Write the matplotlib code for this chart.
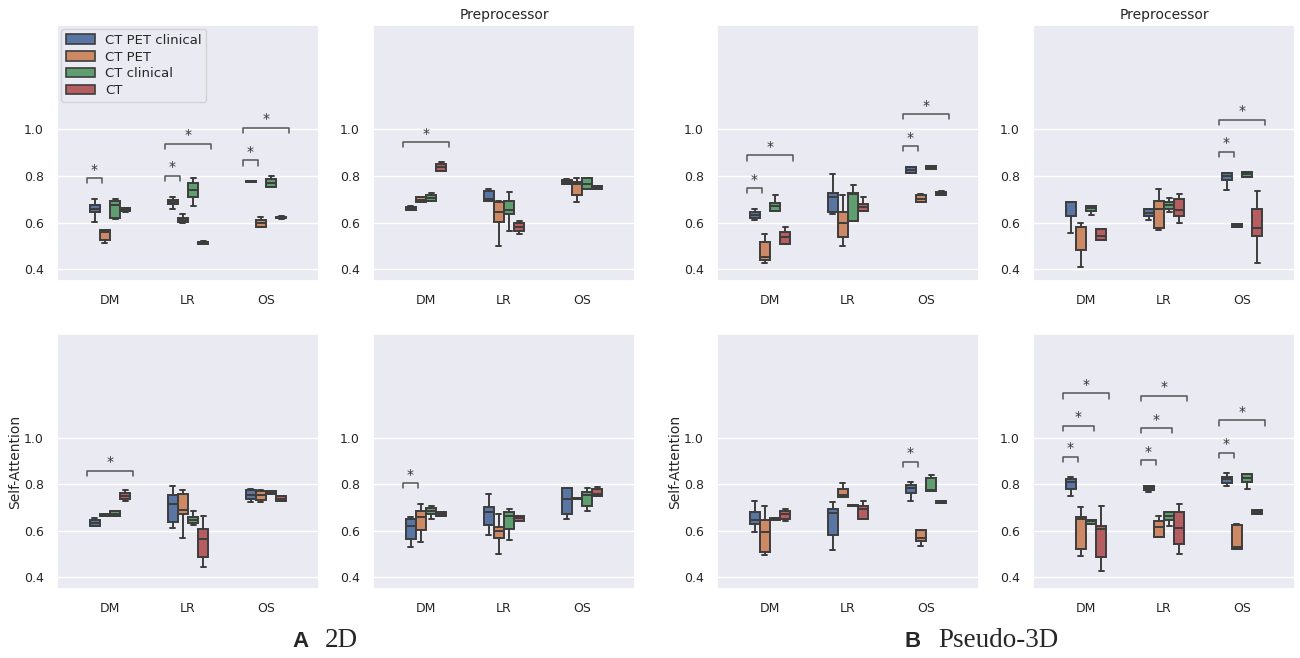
import matplotlib
matplotlib.use('Agg')
import matplotlib.pyplot as plt
from matplotlib.patches import Patch
import seaborn as sns

categories = ['DM', 'LR', 'OS']
inputs = ['CT PET clinical', 'CT PET', 'CT clinical', 'CT']

# box summaries: [whisker low, q1, median, q3, whisker high]
# one block per category (DM, LR, OS), one row per input
base_2d = [
    [[0.604, 0.644, 0.659, 0.673, 0.700], [0.511, 0.526, 0.560, 0.569, 0.569],
     [0.616, 0.619, 0.673, 0.693, 0.700], [0.647, 0.650, 0.657, 0.662, 0.664]],
    [[0.660, 0.680, 0.690, 0.697, 0.709], [0.600, 0.601, 0.611, 0.619, 0.636],
     [0.669, 0.709, 0.740, 0.769, 0.790], [0.509, 0.510, 0.514, 0.518, 0.519]],
    [[0.772, 0.773, 0.776, 0.778, 0.779], [0.583, 0.583, 0.600, 0.611, 0.623],
     [0.750, 0.750, 0.771, 0.787, 0.797], [0.617, 0.618, 0.621, 0.624, 0.626]],
]
prep_2d = [
    [[0.654, 0.655, 0.661, 0.667, 0.672], [0.686, 0.686, 0.697, 0.709, 0.709],
     [0.693, 0.693, 0.707, 0.719, 0.726], [0.820, 0.821, 0.837, 0.850, 0.859]],
    [[0.693, 0.693, 0.700, 0.737, 0.744], [0.501, 0.604, 0.647, 0.686, 0.694],
     [0.566, 0.636, 0.654, 0.694, 0.729], [0.550, 0.564, 0.580, 0.597, 0.607]],
    [[0.766, 0.766, 0.773, 0.780, 0.787], [0.686, 0.719, 0.764, 0.773, 0.790],
     [0.743, 0.743, 0.766, 0.790, 0.790], [0.743, 0.743, 0.750, 0.757, 0.757]],
]
base_p3d = [
    [[0.611, 0.619, 0.633, 0.643, 0.659], [0.426, 0.440, 0.454, 0.516, 0.551],
     [0.651, 0.651, 0.669, 0.683, 0.716], [0.507, 0.507, 0.540, 0.561, 0.580]],
    [[0.637, 0.644, 0.709, 0.726, 0.809], [0.501, 0.537, 0.597, 0.643, 0.716],
     [0.607, 0.607, 0.720, 0.726, 0.761], [0.651, 0.651, 0.666, 0.680, 0.709]],
    [[0.811, 0.811, 0.823, 0.836, 0.836], [0.687, 0.687, 0.701, 0.716, 0.723],
     [0.830, 0.830, 0.837, 0.844, 0.844], [0.716, 0.716, 0.723, 0.730, 0.737]],
]
prep_p3d = [
    [[0.557, 0.626, 0.686, 0.689, 0.689], [0.410, 0.483, 0.581, 0.583, 0.600],
     [0.631, 0.649, 0.661, 0.671, 0.671], [0.524, 0.524, 0.543, 0.574, 0.574]],
    [[0.611, 0.626, 0.640, 0.660, 0.660], [0.567, 0.576, 0.657, 0.691, 0.743],
     [0.644, 0.657, 0.674, 0.689, 0.704], [0.600, 0.626, 0.654, 0.700, 0.721]],
    [[0.740, 0.781, 0.800, 0.814, 0.814], [0.583, 0.583, 0.589, 0.594, 0.594],
     [0.796, 0.796, 0.807, 0.817, 0.817], [0.429, 0.543, 0.577, 0.660, 0.737]],
]
att_2d = [
    [[0.620, 0.620, 0.633, 0.648, 0.655], [0.662, 0.662, 0.667, 0.672, 0.672],
     [0.662, 0.662, 0.670, 0.684, 0.684], [0.726, 0.738, 0.748, 0.762, 0.773]],
    [[0.613, 0.637, 0.715, 0.752, 0.794], [0.570, 0.670, 0.691, 0.757, 0.776],
     [0.624, 0.634, 0.648, 0.658, 0.684], [0.443, 0.489, 0.566, 0.606, 0.665]],
    [[0.723, 0.738, 0.752, 0.773, 0.780], [0.723, 0.733, 0.755, 0.769, 0.776],
     [0.759, 0.759, 0.764, 0.769, 0.769], [0.726, 0.726, 0.738, 0.748, 0.748]],
]
att_prep_2d = [
    [[0.532, 0.563, 0.620, 0.651, 0.660], [0.553, 0.603, 0.660, 0.687, 0.716],
     [0.652, 0.672, 0.684, 0.698, 0.705], [0.662, 0.662, 0.672, 0.681, 0.681]],
    [[0.584, 0.624, 0.679, 0.702, 0.757], [0.502, 0.567, 0.599, 0.617, 0.674],
     [0.559, 0.609, 0.665, 0.681, 0.694], [0.644, 0.644, 0.655, 0.662, 0.662]],
    [[0.651, 0.672, 0.738, 0.783, 0.783], [0.735, 0.735, 0.738, 0.741, 0.741],
     [0.684, 0.708, 0.755, 0.765, 0.783], [0.748, 0.748, 0.759, 0.780, 0.790]],
]
att_p3d = [
    [[0.594, 0.627, 0.648, 0.681, 0.726], [0.495, 0.511, 0.596, 0.648, 0.705],
     [0.648, 0.648, 0.651, 0.655, 0.655], [0.641, 0.651, 0.674, 0.687, 0.694]],
    [[0.518, 0.582, 0.677, 0.694, 0.723], [0.743, 0.743, 0.755, 0.780, 0.804],
     [0.705, 0.705, 0.708, 0.712, 0.712], [0.652, 0.652, 0.695, 0.705, 0.726]],
    [[0.726, 0.762, 0.783, 0.797, 0.809], [0.535, 0.556, 0.570, 0.603, 0.603],
     [0.769, 0.769, 0.776, 0.826, 0.840], [0.719, 0.719, 0.722, 0.726, 0.726]],
]
att_prep_p3d = [
    [[0.750, 0.779, 0.809, 0.821, 0.830], [0.492, 0.521, 0.652, 0.658, 0.702],
     [0.631, 0.631, 0.640, 0.648, 0.648], [0.428, 0.489, 0.606, 0.620, 0.708]],
    [[0.766, 0.773, 0.783, 0.793, 0.793], [0.574, 0.574, 0.617, 0.644, 0.665],
     [0.620, 0.645, 0.662, 0.679, 0.681], [0.502, 0.545, 0.610, 0.679, 0.716]],
    [[0.794, 0.804, 0.823, 0.833, 0.850], [0.521, 0.521, 0.530, 0.623, 0.627],
     [0.780, 0.811, 0.828, 0.843, 0.844], [0.674, 0.674, 0.681, 0.688, 0.688]],
]

# significance brackets: (category, input a, input b, bracket height)
sig_base_2d = [(0, 0, 1, 0.790), (1, 0, 1, 0.801), (1, 0, 3, 0.937),
               (2, 0, 1, 0.866), (2, 0, 3, 1.006)]
sig_prep_2d = [(0, 0, 3, 0.944)]
sig_base_p3d = [(0, 0, 1, 0.747), (0, 0, 3, 0.887), (2, 0, 1, 0.926), (2, 0, 3, 1.064)]
sig_prep_p3d = [(2, 0, 1, 0.903), (2, 0, 3, 1.040)]
sig_att_2d = [(0, 0, 3, 0.858)]
sig_att_prep_2d = [(0, 0, 1, 0.804)]
sig_att_p3d = [(2, 0, 1, 0.896)]
sig_att_prep_p3d = [(0, 0, 1, 0.918), (0, 0, 2, 1.052), (0, 0, 3, 1.190),
                    (1, 0, 1, 0.904), (1, 0, 2, 1.041), (1, 0, 3, 1.180),
                    (2, 0, 1, 0.935), (2, 0, 3, 1.074)]

sns.set_theme(style='darkgrid')
plt.rcParams['font.family'] = ['DejaVu Sans']

colors = [sns.desaturate(c, 0.75) for c in sns.color_palette('deep')[:4]]
edge = '#3d3d3d'
box_offsets = [-0.195, -0.065, 0.065, 0.195]
sig_offsets = [-0.3, -0.1, 0.1, 0.3]


def draw_panel(ax, stats, sigs):
    for ci, cat in enumerate(stats):
        for hi, s in enumerate(cat):
            box = dict(whislo=s[0], q1=s[1], med=s[2], q3=s[3], whishi=s[4])
            ax.bxp([box], positions=[ci + box_offsets[hi]], widths=0.13,
                   showfliers=False, patch_artist=True, manage_ticks=False,
                   boxprops=dict(facecolor=colors[hi], edgecolor=edge, linewidth=1.4),
                   medianprops=dict(color=edge, linewidth=1.4),
                   whiskerprops=dict(color=edge, linewidth=1.4),
                   capprops=dict(color=edge, linewidth=1.4))
    for ci, a, b, y in sigs:
        x1 = ci + sig_offsets[a]
        x2 = ci + sig_offsets[b]
        ax.plot([x1, x1, x2, x2], [y - 0.022, y, y, y - 0.022], color='#555555', lw=1.1)
        ax.text((x1 + x2) / 2, y + 0.006, '*', ha='center', va='bottom',
                fontsize=10, color='#333333')
    ax.set_xlim(-0.68, 2.68)
    ax.set_ylim(0.35, 1.445)
    ax.set_yticks([0.4, 0.6, 0.8, 1.0])
    ax.set_xticks([0, 1, 2])
    ax.set_xticklabels(categories)
    ax.xaxis.grid(False)
    ax.tick_params(labelsize=9, colors='#262626')


fig = plt.figure(figsize=(13, 6.58), dpi=100)
W, H = 1300, 658
lefts = [57, 373, 717, 1033]
panels = [
    (base_2d, sig_base_2d, 0, 0), (prep_2d, sig_prep_2d, 1, 0),
    (base_p3d, sig_base_p3d, 2, 0), (prep_p3d, sig_prep_p3d, 3, 0),
    (att_2d, sig_att_2d, 0, 1), (att_prep_2d, sig_att_prep_2d, 1, 1),
    (att_p3d, sig_att_p3d, 2, 1), (att_prep_p3d, sig_att_prep_p3d, 3, 1),
]
axes = []
for stats, sigs, col, row in panels:
    top, bottom = (25, 281) if row == 0 else (334, 589)
    ax = fig.add_axes([lefts[col] / W, 1 - bottom / H, 262 / W, (bottom - top) / H])
    draw_panel(ax, stats, sigs)
    axes.append(ax)

axes[1].set_title('Preprocessor', fontsize=10, pad=4, color='#262626')
axes[3].set_title('Preprocessor', fontsize=10, pad=4, color='#262626')
axes[4].set_ylabel('Self-Attention', fontsize=10, color='#262626', labelpad=1)
axes[6].set_ylabel('Self-Attention', fontsize=10, color='#262626', labelpad=1)

handles = [Patch(facecolor=c, edgecolor=edge, linewidth=1.2) for c in colors]
axes[0].legend(handles, inputs, loc='upper left', fontsize=9.5,
               borderaxespad=0.3, handlelength=2.2, labelspacing=0.3,
               borderpad=0.35)

fig.text(292 / W, 1 - 647 / H, 'A', fontsize=16, fontweight='bold',
         family='Liberation Sans', va='baseline')
fig.text(325 / W, 1 - 647 / H, '2D', fontsize=19.5, family='Liberation Serif', va='baseline')
fig.text(905 / W, 1 - 647 / H, 'B', fontsize=16, fontweight='bold',
         family='Liberation Sans', va='baseline')
fig.text(938 / W, 1 - 647 / H, 'Pseudo-3D', fontsize=19.5, family='Liberation Serif',
         va='baseline')

fig.savefig('out.png', dpi=100)
